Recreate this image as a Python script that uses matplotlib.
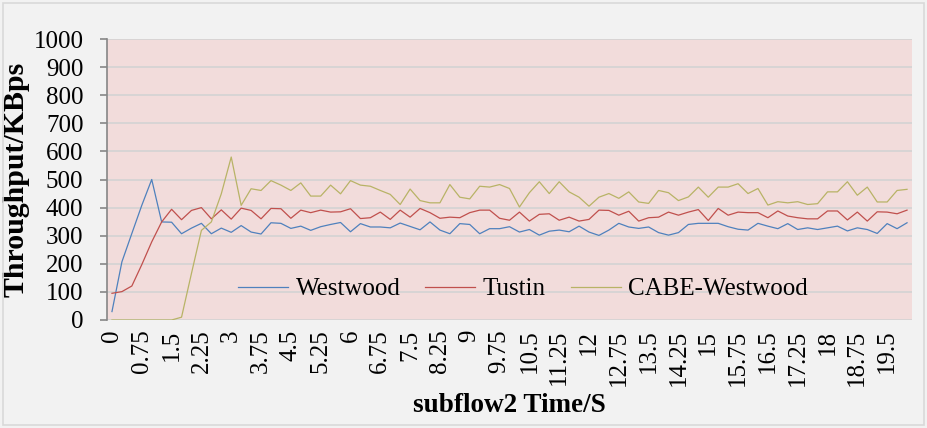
import matplotlib
matplotlib.use("Agg")
import matplotlib.pyplot as plt
from matplotlib.patches import Rectangle

# categories: 0 .. 20 step 0.25 (81 points); labels every 0.75
time_labels = [f"{v:g}" for v in [i * 0.25 for i in range(81)]]

westwood = [30, 207, 308, 408, 500, 349, 348, 307, 327, 344, 307, 327, 312, 336, 313, 306,
            346, 344, 326, 334, 319, 332, 340, 347, 314, 343, 331, 331, 328, 345, 333, 321,
            349, 320, 307, 343, 340, 307, 325, 325, 332, 313, 322, 302, 316, 320, 314, 334,
            313, 301, 320, 344, 331, 326, 331, 311, 302, 311, 340, 344, 344, 344, 332, 323,
            320, 344, 334, 325, 343, 322, 328, 322, 328, 334, 317, 328, 322, 308, 343, 325, 346]

tustin = [95, 101, 121, 197, 278, 349, 394, 357, 390, 400, 360, 392, 359, 398, 390, 360,
          397, 396, 362, 391, 382, 391, 384, 385, 396, 361, 364, 384, 358, 391, 366, 397,
          382, 362, 366, 364, 382, 391, 391, 362, 355, 384, 352, 376, 378, 355, 366, 352,
          358, 391, 390, 373, 387, 352, 364, 366, 384, 373, 384, 393, 354, 397, 373, 384,
          382, 382, 364, 388, 370, 364, 360, 360, 388, 388, 356, 384, 352, 385, 384, 378, 391]

cabe = [0, 0, 0, 0, 0, 0, 0, 10, 166, 319, 349, 449, 580, 408, 467, 461,
        496, 480, 461, 488, 441, 441, 480, 449, 496, 480, 476, 461, 447, 411, 466, 425,
        417, 417, 482, 437, 431, 476, 473, 482, 468, 402, 453, 492, 450, 492, 456, 437,
        405, 437, 450, 433, 456, 420, 415, 461, 453, 425, 438, 473, 437, 473, 473, 485,
        450, 468, 409, 421, 417, 421, 411, 414, 456, 456, 492, 444, 473, 420, 420, 461, 465]

series_names = ["Westwood", "Tustin", "CABE-Westwood"]
series_colors = ["#4f81bd", "#c0504d", "#b8b366"]
y_ticks = list(range(0, 1001, 100))

plt.rcParams["font.family"] = ["Liberation Serif", "DejaVu Serif"]

W, H = 927, 428
fig = plt.figure(figsize=(W / 100, H / 100), dpi=100)
fig.patch.set_facecolor("#f2f2f2")
fig.patches.append(Rectangle((3 / W, 3 / H), 921 / W, 422 / H, transform=fig.transFigure,
                             facecolor="none", edgecolor="#d9d9d9", linewidth=1.2, zorder=5))

ax = fig.add_axes([107 / W, (H - 320) / H, (912 - 107) / W, (320 - 39) / H])
ax.set_facecolor("#f2dcdb")

x = list(range(len(time_labels)))
for vals, name, col in zip([westwood, tustin, cabe], series_names, series_colors):
    ax.plot(x, vals, color=col, lw=0.9, label=name, zorder=3)

ax.set_xlim(-0.5, len(time_labels) - 0.5)
ax.set_ylim(0, 1000)
ax.set_yticks(y_ticks)
ax.set_yticklabels([str(v) for v in y_ticks], fontsize=18)
ax.set_xticks(x[::3])
ax.set_xticklabels(time_labels[::3], rotation=90, fontsize=18)
ax.tick_params(axis="x", length=0, pad=7)
ax.tick_params(axis="y", length=5, width=1.2, color="#868686", pad=12, direction="out")
ax.grid(axis="y", color="#d3d3d3", lw=1.2, zorder=1)
ax.set_axisbelow(True)
for s in ["top", "right", "bottom"]:
    ax.spines[s].set_visible(False)
ax.spines["left"].set_color("#868686")
ax.spines["left"].set_linewidth(1.2)

ax.set_ylabel("Throughput/KBps", fontsize=21.5, fontweight="bold", labelpad=3)
ax.set_xlabel("subflow2 Time/S", fontsize=19.5, fontweight="bold", labelpad=5)

leg = ax.legend(loc="center", bbox_to_anchor=(0.517, 0.11), ncol=3, frameon=False,
                fontsize=18, handlelength=2.0, handletextpad=0.3, columnspacing=1.0)

fig.savefig("out.png", dpi=100)
